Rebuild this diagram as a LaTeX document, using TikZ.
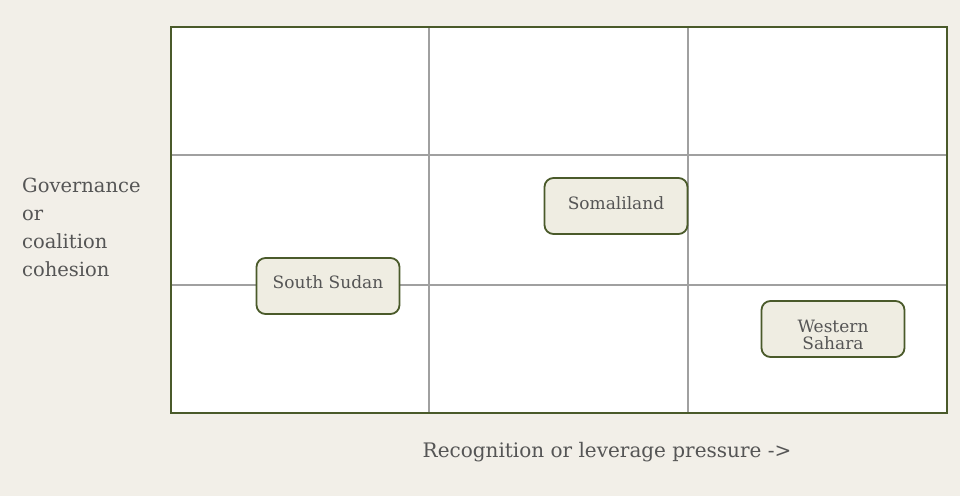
\documentclass[tikz,border=0pt]{standalone}
\usepackage{fontspec}
\setmainfont{DejaVu Serif}
\definecolor{bgc}{HTML}{F2EFE8}
\definecolor{framec}{HTML}{4A5A2A}
\definecolor{gridc}{HTML}{A0A0A0}
\definecolor{boxfill}{HTML}{EFEDE2}
\definecolor{txt}{HTML}{555555}
\tikzset{
  cell/.style={draw=gridc, line width=1.2pt},
  frame/.style={draw=framec, line width=2.8pt},
  country/.style={draw=framec, line width=1.8pt, fill=boxfill, rounded corners=9pt,
    minimum width=143pt, minimum height=56pt, align=center, text=txt,
    font=\fontsize{17}{17}\selectfont, inner sep=0pt},
  lab/.style={text=txt, font=\fontsize{19.5}{28}\selectfont, inner sep=0pt}
}
\begin{document}
\begin{tikzpicture}[x=1pt,y=-1pt]
\useasboundingbox[fill=bgc] (0,0) rectangle (960,496);
\fill[white] (171,27) rectangle (947,413);
\draw[cell] (429,27) -- (429,413);
\draw[cell] (688,27) -- (688,413);
\draw[cell] (171,155) -- (947,155);
\draw[cell] (171,285) -- (947,285);
\draw[frame] (171,27) rectangle (947,413);
\node[country, text height=12pt, text depth=7pt] (ss) at (328,286) {South Sudan};
\node[country, text height=12pt, text depth=6pt] (so) at (616,206) {Somaliland};
\node[country, text height=44pt, text depth=3pt] (ws) at (833,329) {Western\\Sahara};
\node[lab, anchor=west, align=left] (ylab) at (22,227) {Governance\\or\\coalition\\cohesion};
\node[lab, font=\fontsize{20}{24}\selectfont] (xlab) at (607,452) {Recognition or leverage pressure ->};
\end{tikzpicture}
\end{document}
